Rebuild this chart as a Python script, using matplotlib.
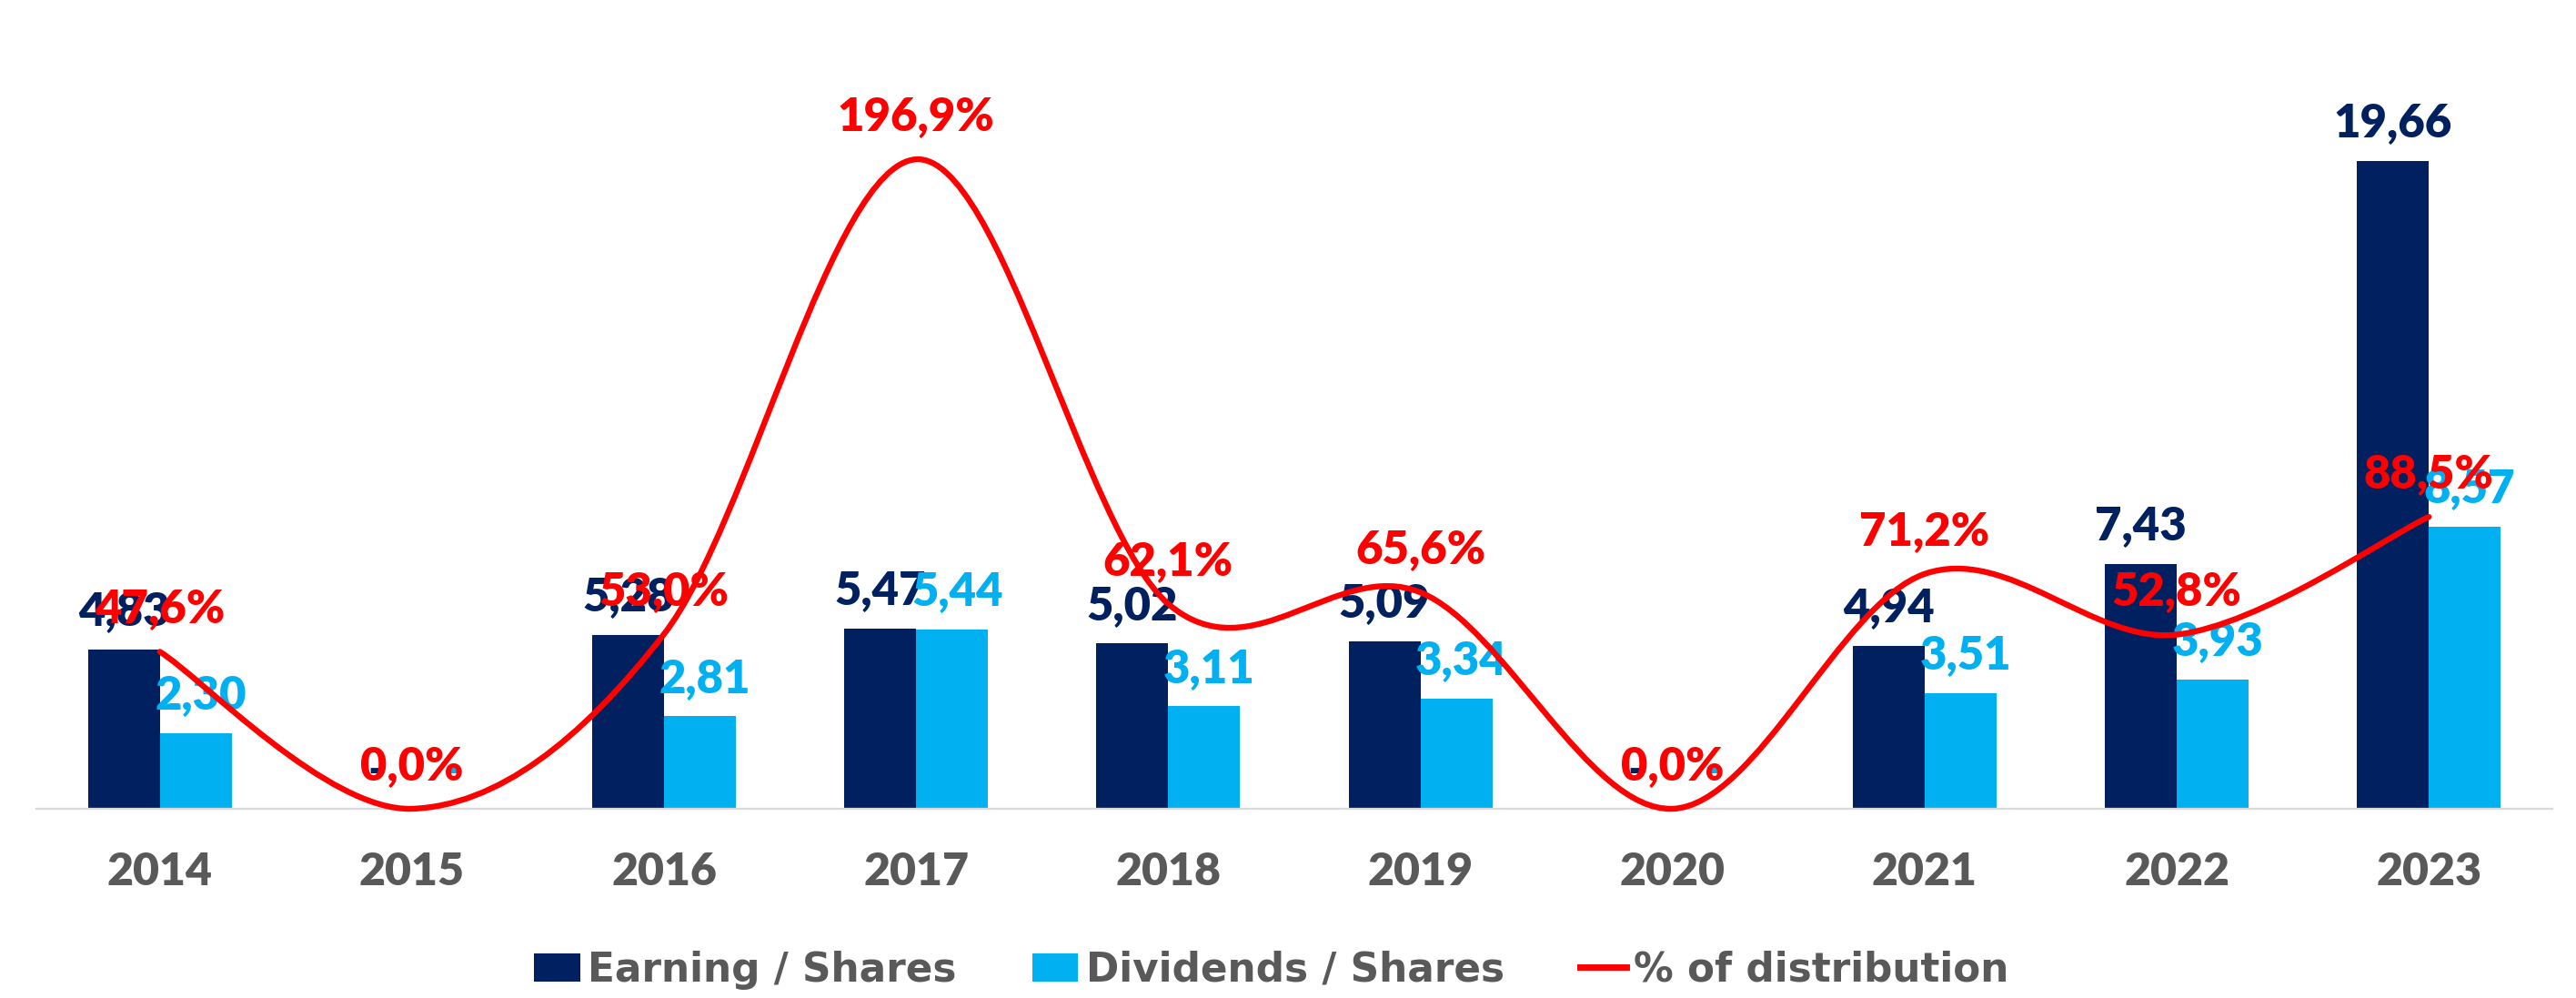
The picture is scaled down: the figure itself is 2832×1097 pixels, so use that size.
import matplotlib

matplotlib.use("Agg")
import matplotlib.pyplot as plt  # noqa: E402
from matplotlib.path import Path  # noqa: E402
from matplotlib.patches import PathPatch  # noqa: E402
from matplotlib.lines import Line2D  # noqa: E402
from matplotlib.patches import Patch  # noqa: E402

years = ["2014", "2015", "2016", "2017", "2018", "2019", "2020", "2021", "2022", "2023"]
earning = [4.83, 0.0, 5.28, 5.47, 5.02, 5.09, 0.0, 4.94, 7.43, 19.66]
dividends = [2.30, 0.0, 2.81, 5.44, 3.11, 3.34, 0.0, 3.51, 3.93, 8.57]
distribution = [47.6, 0.0, 53.0, 196.9, 62.1, 65.6, 0.0, 71.2, 52.8, 88.5]

NAVY = "#002060"
LIGHT = "#00B0F0"
RED = "#FF0000"
GRAY = "#595959"
FONT = "Lato"
WEIGHT = "heavy"


def fmt(v, pct=False):
    if pct:
        return f"{v:.1f}%".replace(".", ",")
    if v == 0:
        return "-"
    return f"{v:.2f}".replace(".", ",")


def smooth_path(xs, ys):
    # Catmull-Rom style bezier, like a spreadsheet "smoothed line"
    pts = list(zip(xs, ys))
    n = len(pts)
    verts = [pts[0]]
    codes = [Path.MOVETO]
    for i in range(n - 1):
        p0 = pts[max(i - 1, 0)]
        p1 = pts[i]
        p2 = pts[i + 1]
        p3 = pts[min(i + 2, n - 1)]
        c1 = (p1[0] + (p2[0] - p0[0]) / 6, p1[1] + (p2[1] - p0[1]) / 6)
        c2 = (p2[0] - (p3[0] - p1[0]) / 6, p2[1] - (p3[1] - p1[1]) / 6)
        verts += [c1, c2, p2]
        codes += [Path.CURVE4] * 3
    return Path(verts, codes)


fig = plt.figure(figsize=(28.32, 10.97), dpi=100)
ax = fig.add_axes([40 / 2832, 1 - 889 / 1097, 2766 / 2832, 889 / 1097])
x = list(range(len(years)))
w = 0.285

ax.bar([i - w / 2 for i in x], earning, width=w, color=NAVY, zorder=2)
ax.bar([i + w / 2 for i in x], dividends, width=w, color=LIGHT, zorder=2)
ax.set_xlim(-0.49, len(years) - 0.51)
ax.set_ylim(0, 24.55)
ax.set_yticks([])
ax.set_xticks(x)
ax.set_xticklabels(years, fontsize=36, fontweight=WEIGHT, color=GRAY, family=FONT)
ax.tick_params(axis="x", length=0, pad=34)
for s in ["top", "left", "right"]:
    ax.spines[s].set_visible(False)
ax.spines["bottom"].set_color("#D9D9D9")
ax.spines["bottom"].set_linewidth(1.6)

for i in x:
    ax.annotate(fmt(earning[i]), (i - w / 2, earning[i]), xytext=(0, 30),
                textcoords="offset points", ha="center", va="center",
                fontsize=36.5, fontweight=WEIGHT, color=NAVY, family=FONT, zorder=3)
    ax.annotate(fmt(dividends[i]), (i + w / 2, dividends[i]), xytext=(4, 30),
                textcoords="offset points", ha="center", va="center",
                fontsize=36.5, fontweight=WEIGHT, color=LIGHT, family=FONT, zorder=3)

ax2 = ax.twinx()
ax2.set_ylim(0, 245.2)
ax2.set_yticks([])
for s in ax2.spines.values():
    s.set_visible(False)
ax2.add_patch(PathPatch(smooth_path(x, distribution), facecolor="none", edgecolor=RED,
                        linewidth=4.6, capstyle="round", clip_on=False, zorder=4))
for i in x:
    ax2.annotate(fmt(distribution[i], pct=True), (i, distribution[i]), xytext=(0, 34),
                 textcoords="offset points", ha="center", va="center",
                 fontsize=36.5, fontweight=WEIGHT, color=RED, family=FONT, zorder=5)

handles = [
    Patch(facecolor=NAVY, label="Earning / Shares"),
    Patch(facecolor=LIGHT, label="Dividends / Shares"),
    Line2D([], [], color=RED, linewidth=5, label="% of distribution"),
]
fig.legend(handles=handles, loc="center", bbox_to_anchor=(1398 / 2832, 31 / 1097), ncol=3,
           frameon=False, handlelength=1.15, handleheight=0.7, handletextpad=0.2,
           columnspacing=1.9, prop={"family": "DejaVu Sans", "weight": "bold", "size": 31.5},
           labelcolor=GRAY)

fig.savefig("out.png", dpi=100)
plt.close(fig)
